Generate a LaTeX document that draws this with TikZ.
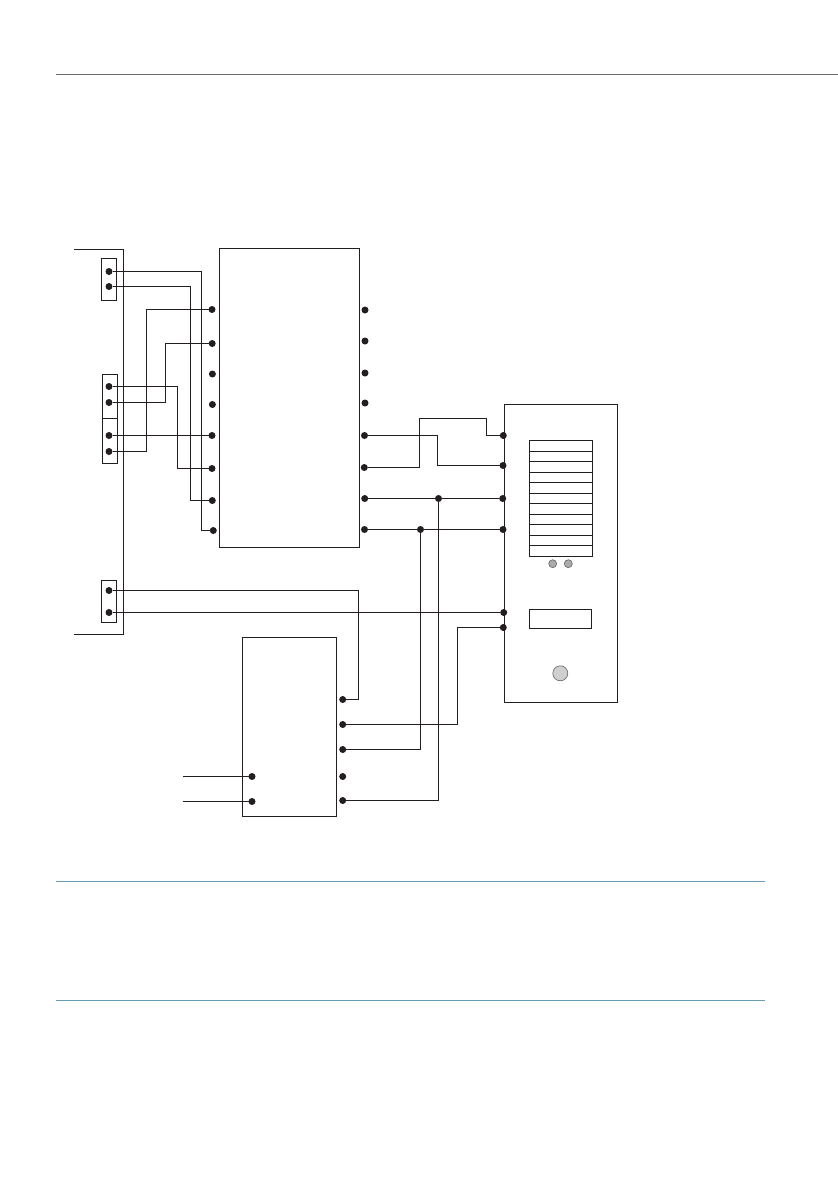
\documentclass[tikz,border=0pt]{standalone}
\definecolor{ink}{HTML}{231F20}
\definecolor{rulegray}{HTML}{6A6B6D}
\definecolor{ruleblue}{HTML}{6A9CB8}
\definecolor{ledgray}{HTML}{ABABAB}
\definecolor{knobgray}{HTML}{CFCFCF}
\tikzset{
  wire/.style={draw=ink,line width=1.2pt,line join=miter},
  dot/.style={circle,fill=ink,inner sep=0pt,minimum size=7pt,outer sep=0pt},
  boxn/.style={rectangle,draw=ink,line width=1.2pt,inner sep=0pt,outer sep=0pt},
  keyrow/.style={boxn,minimum width=63pt},
  ledn/.style={circle,draw=ink!70,fill=ledgray,line width=0.6pt,inner sep=0pt,minimum size=8pt},
}
\begin{document}
\begin{tikzpicture}[x=1pt,y=-1pt]
\useasboundingbox (0,0) rectangle (838,1192);
% page rules
\coordinate (rt0) at (56,74.5); \coordinate (rt1) at (838,74.5);
\draw[rulegray,line width=1pt] (rt0) -- (rt1);
\coordinate (rb0) at (56,881.5); \coordinate (rb1) at (765,881.5);
\coordinate (rc0) at (56,1000.5); \coordinate (rc1) at (765,1000.5);
\draw[ruleblue,line width=1pt] (rb0) -- (rb1);
\draw[ruleblue,line width=1pt] (rc0) -- (rc1);
% left panel outline
\coordinate (pa) at (74,249.5); \coordinate (pb) at (123.5,249.5);
\coordinate (pc) at (123.5,634.5); \coordinate (pd) at (74,634.5);
\draw[wire] (pa) -- (pb) -- (pc) -- (pd);
% connector blocks
\node[boxn,minimum width=15pt,minimum height=42pt] (c1) at (109,279.5) {};
\node[boxn,minimum width=15pt,minimum height=44pt] (c2) at (110,396.5) {};
\node[boxn,minimum width=15pt,minimum height=45pt] (c3) at (110,441) {};
\node[boxn,minimum width=15pt,minimum height=42pt] (c4) at (109,601.5) {};
% main unit
\node[boxn,minimum width=140pt,minimum height=299pt] (main) at (289.5,398) {};
% lower unit
\node[boxn,minimum width=94pt,minimum height=179pt] (low) at (289.5,727) {};
% right panel
\node[boxn,minimum width=113pt,minimum height=298pt] (pan) at (561,553.5) {};
% stack of keys
\node[keyrow,minimum height=11pt] (k1) at (561,446) {};
\node[keyrow,minimum height=10pt] (k2) at (561,456.5) {};
\node[keyrow,minimum height=11pt] (k3) at (561,467) {};
\node[keyrow,minimum height=10pt] (k4) at (561,477.5) {};
\node[keyrow,minimum height=11pt] (k5) at (561,488) {};
\node[keyrow,minimum height=10pt] (k6) at (561,498.5) {};
\node[keyrow,minimum height=11pt] (k7) at (561,509) {};
\node[keyrow,minimum height=10pt] (k8) at (561,519.5) {};
\node[keyrow,minimum height=11pt] (k9) at (561,530) {};
\node[keyrow,minimum height=10pt] (k10) at (561,540.5) {};
\node[keyrow,minimum height=11pt] (k11) at (561,551) {};
% LEDs, display, knob
\node[ledn] (led1) at (552.7,563.7) {};
\node[ledn] (led2) at (568.3,563.7) {};
\node[boxn,minimum width=62pt,minimum height=19pt] (disp) at (560.5,619) {};
\node[circle,draw=ink!70,fill=knobgray,line width=0.6pt,inner sep=0pt,minimum size=15pt] (knob) at (560.3,673.3) {};
% terminals: connector blocks
\node[dot] (a1) at (109,271.5) {};
\node[dot] (a2) at (109,286.5) {};
\node[dot] (a3) at (109,386.5) {};
\node[dot] (a4) at (109,402.5) {};
\node[dot] (a5) at (109,435.5) {};
\node[dot] (a6) at (109,451.5) {};
\node[dot] (a7) at (109,590.5) {};
\node[dot] (a8) at (109,612.5) {};
% terminals: main unit left
\node[dot] (m1) at (212,309.5) {};
\node[dot] (m2) at (212.2,343.5) {};
\node[dot] (m3) at (212.4,374) {};
\node[dot] (m4) at (212.4,404.5) {};
\node[dot] (m5) at (212,435.5) {};
\node[dot] (m6) at (212,468.5) {};
\node[dot] (m7) at (212.3,500.5) {};
\node[dot] (m8) at (213.3,530.5) {};
% terminals: main unit right
\node[dot] (n1) at (365,310) {};
\node[dot] (n2) at (365,341) {};
\node[dot] (n3) at (365,373) {};
\node[dot] (n4) at (365,403) {};
\node[dot] (n5) at (364.5,435.5) {};
\node[dot] (n6) at (364.3,467.5) {};
\node[dot] (n7) at (364.7,498.5) {};
\node[dot] (n8) at (364.5,529.5) {};
% terminals: right panel
\node[dot] (r1) at (503.3,435.5) {};
\node[dot] (r2) at (503,465.5) {};
\node[dot] (r3) at (502.7,498.5) {};
\node[dot] (r4) at (503,529.5) {};
\node[dot] (r5) at (503.7,612.5) {};
\node[dot] (r6) at (503.3,627.5) {};
% junctions
\node[dot] (j1) at (438.5,498.5) {};
\node[dot] (j2) at (420.5,529.5) {};
% terminals: lower unit
\node[dot] (l1) at (342.7,699.5) {};
\node[dot] (l2) at (342.7,724.5) {};
\node[dot] (l3) at (342.7,749.5) {};
\node[dot] (l4) at (342.7,776.5) {};
\node[dot] (l5) at (342.7,800.5) {};
\node[dot] (i1) at (252,776.5) {};
\node[dot] (i2) at (252,801.5) {};
% free ends
\coordinate (f1) at (183,776.5);
\coordinate (f2) at (183,801.5);
% routing columns
\coordinate (v1) at (201.5,0);
\coordinate (v2) at (190.5,0);
\coordinate (v3) at (177.5,0);
\coordinate (v4) at (165.5,0);
\coordinate (v5) at (146.5,0);
\coordinate (v6) at (437.5,0);
\coordinate (v7) at (419.5,0);
\coordinate (v8) at (486.5,0);
\coordinate (v9) at (457.5,0);
\coordinate (v10) at (358.5,0);
\coordinate (h1) at (0,418.5);
% wires, connector blocks to main unit
\draw[wire] (a1) -- (a1 -| v1) -- (m8 -| v1) -- (m8);
\draw[wire] (a2) -- (a2 -| v2) -- (m7 -| v2) -- (m7);
\draw[wire] (a3) -- (a3 -| v3) -- (m6 -| v3) -- (m6);
\draw[wire] (a4) -- (a4 -| v4) -- (m2 -| v4) -- (m2);
\draw[wire] (a5) -- (m5);
\draw[wire] (a6) -- (a6 -| v5) -- (m1 -| v5) -- (m1);
% wires, main unit to right panel
\draw[wire] (n5) -- (n5 -| v6) -- (r2 -| v6) -- (r2);
\draw[wire] (n6) -- (n6 -| v7) -- (h1 -| v7) -- (h1 -| v8) -- (r1 -| v8) -- (r1);
\draw[wire] (n7) -- (j1) -- (r3);
\draw[wire] (n8) -- (j2) -- (r4);
% wires, lower unit
\draw[wire] (a7) -- (a7 -| v10) -- (l1 -| v10) -- (l1);
\draw[wire] (a8) -- (r5);
\draw[wire] (l2) -- (l2 -| v9) -- (r6 -| v9) -- (r6);
\draw[wire] (l3) -- (l3 -| j2) -- (j2);
\draw[wire] (l5) -- (l5 -| j1) -- (j1);
\draw[wire] (f1) -- (i1);
\draw[wire] (f2) -- (i2);
\end{tikzpicture}
\end{document}
